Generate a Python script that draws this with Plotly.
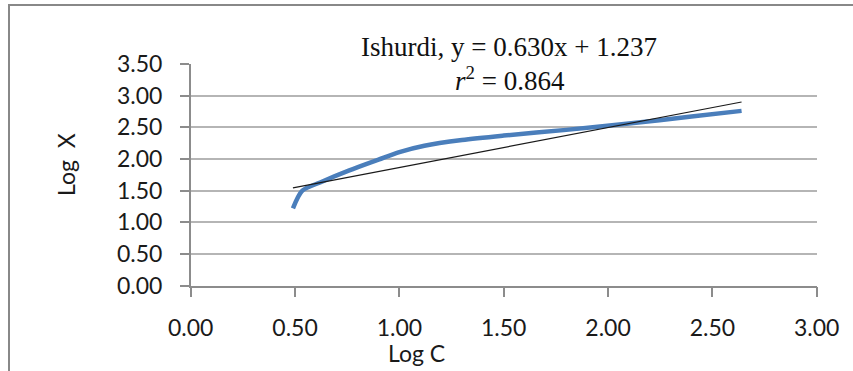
import plotly.graph_objects as go

# Data
log_c = [0.49, 0.535, 0.62, 0.76, 0.90, 1.00, 1.12, 1.30, 1.50, 1.80, 2.10, 2.40, 2.64]
log_x = [1.22, 1.50, 1.63, 1.82, 1.99, 2.11, 2.21, 2.30, 2.37, 2.46, 2.56, 2.67, 2.76]

slope = 0.630
intercept = 1.237
r2 = 0.864
site = "Ishurdi"

x_ticks = [0.0, 0.5, 1.0, 1.5, 2.0, 2.5, 3.0]
y_ticks = [0.0, 0.5, 1.0, 1.5, 2.0, 2.5, 3.0, 3.5]

W, H = 853, 371
px_l, px_r = 190.7, 816.7
px_t, px_b = 64.0, 285.7

trend_x = [min(log_c), max(log_c)]
trend_y = [slope * v + intercept for v in trend_x]

fig = go.Figure()
fig.add_trace(go.Scatter(x=log_c, y=log_x, mode="lines",
                         line=dict(color="#4A7EBB", width=4.5, shape="spline", smoothing=0.8),
                         showlegend=False, hoverinfo="skip"))
fig.add_trace(go.Scatter(x=trend_x, y=trend_y, mode="lines",
                         line=dict(color="#1a1a1a", width=1.2),
                         showlegend=False, hoverinfo="skip"))

tick_font = dict(family="Lato, Carlito, sans-serif", size=23, color="#1a1a1a")

fig.update_layout(
    template="none",
    width=W, height=H,
    margin=dict(l=0, r=0, t=0, b=0, autoexpand=False),
    paper_bgcolor="white", plot_bgcolor="white",
    xaxis=dict(domain=[px_l / W, px_r / W], range=[0, 3], automargin=False,
               tickvals=x_ticks, ticktext=[f"{v:.2f}" for v in x_ticks],
               ticks="outside", ticklen=10, tickcolor="#8c8c8c", tickwidth=1.5,
               showline=True, linecolor="#8c8c8c", linewidth=1.5,
               showgrid=False, zeroline=False, tickfont=tick_font,
               ticklabelstandoff=11),
    yaxis=dict(domain=[(H - px_b) / H, (H - px_t) / H], range=[0, 3.5], automargin=False,
               tickvals=y_ticks, ticktext=[f"{v:.2f}" for v in y_ticks],
               ticks="outside", ticklen=9, tickcolor="#8c8c8c", tickwidth=1.5,
               showline=True, linecolor="#8c8c8c", linewidth=1.5,
               showgrid=True, gridcolor="#b5b5b5", gridwidth=1.5,
               zeroline=False, tickfont=tick_font, ticklabelstandoff=13),
    shapes=[dict(type="rect", xref="paper", yref="paper",
                 x0=9 / W, x1=1.05, y0=-0.05, y1=(H - 5) / H,
                 line=dict(color="#888888", width=2), fillcolor="rgba(0,0,0,0)")],
    annotations=[
        dict(text=f"{site}, y = {slope:.3f}x + {intercept:.3f}", xref="paper", yref="paper",
             x=509 / W, y=(H - 47) / H, showarrow=False, xanchor="center", yanchor="middle",
             font=dict(family="Liberation Serif, Times New Roman, serif", size=27, color="#111")),
        dict(text=f"<i>r</i><sup>2</sup> = {r2:.3f}", xref="paper", yref="paper",
             x=510 / W, y=(H - 79) / H, showarrow=False, xanchor="center", yanchor="middle",
             font=dict(family="Liberation Serif, Times New Roman, serif", size=27, color="#111")),
        dict(text="Log  X", xref="paper", yref="paper", textangle=-90,
             x=66 / W, y=(H - 165) / H, showarrow=False, xanchor="center", yanchor="middle",
             font=tick_font),
        dict(text="Log C", xref="paper", yref="paper",
             x=416 / W, y=(H - 353) / H, showarrow=False, xanchor="center", yanchor="middle",
             font=tick_font),
    ],
)

fig.write_html("out.html")
